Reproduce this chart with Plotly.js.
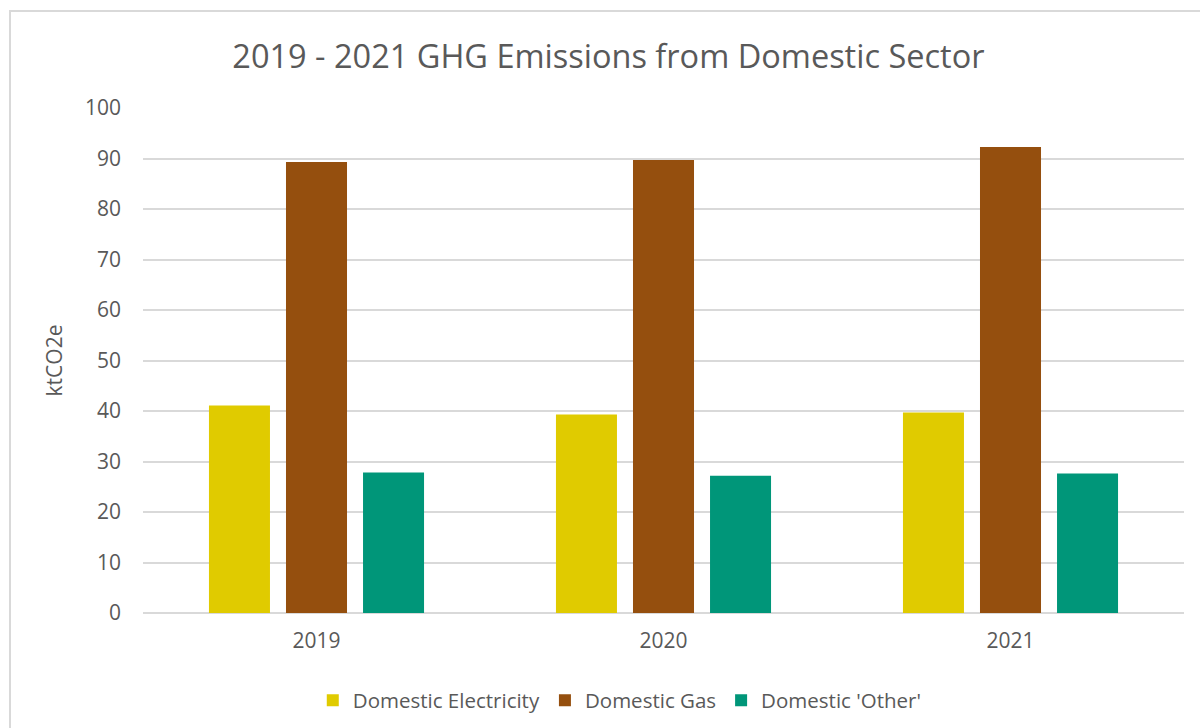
<!DOCTYPE html>
<html>
<head>
<meta charset="utf-8">
<script src="https://cdn.plot.ly/plotly-3.0.1.min.js"></script>
<style>
  html, body { margin: 0; padding: 0; background: #ffffff; }
  #chart { width: 1200px; height: 728px; position: absolute; left: 0; top: 0; }
  #frame { position: absolute; left: 9px; top: 10px; width: 1200px; height: 730px;
           border-top: 2px solid #d9d9d9; border-left: 2px solid #d9d9d9; pointer-events: none; }
</style>
</head>
<body>
<div id="chart"></div>
<div id="frame"></div>
<script>
const years = ['2019', '2020', '2021'];
const electricity = [41.1, 39.3, 39.7];
const gas = [89.3, 89.7, 92.3];
const other = [27.8, 27.2, 27.6];
const seriesNames = ['Domestic Electricity', 'Domestic Gas', "Domestic 'Other'"];
const seriesColors = ['#E0CB00', '#954F0E', '#009679'];
const yTicks = [0, 10, 20, 30, 40, 50, 60, 70, 80, 90, 100];

const font = 'Open Sans, Calibri, sans-serif';
const textColor = '#595959';

const seriesValues = [electricity, gas, other];
const data = seriesValues.map((vals, i) => ({
  type: 'bar',
  name: seriesNames[i],
  x: years,
  y: vals,
  marker: { color: seriesColors[i] },
  hoverinfo: 'x+y+name'
}));

const layout = {
  width: 1200,
  height: 728,
  paper_bgcolor: '#ffffff',
  plot_bgcolor: '#ffffff',
  font: { family: font, color: textColor },
  title: {
    text: '2019 - 2021 GHG Emissions from Domestic Sector',
    font: { family: font, size: 32.5, color: textColor },
    x: 0.507, xanchor: 'center',
    y: 0.922, yanchor: 'middle'
  },
  margin: { l: 143, r: 16, t: 108, b: 114.5 },
  barmode: 'group',
  bargap: 0.334,
  bargroupgap: 0.208,
  xaxis: {
    type: 'category',
    tickfont: { family: font, size: 21, color: textColor },
    showgrid: false,
    showline: false,
    ticks: '',
    ticklabelstandoff: 13,
    fixedrange: true
  },
  yaxis: {
    range: [0, 100],
    tickvals: yTicks,
    ticktext: yTicks.map(String),
    tickfont: { family: font, size: 21, color: textColor },
    showgrid: true,
    gridcolor: '#d9d9d9',
    gridwidth: 1.5,
    zeroline: true,
    zerolinecolor: '#d9d9d9',
    zerolinewidth: 1.5,
    showline: false,
    ticks: '',
    ticklabelstandoff: 21,
    title: {
      text: 'ktCO2e',
      font: { family: font, size: 21, color: textColor },
      standoff: 16
    },
    fixedrange: true
  },
  showlegend: true,
  legend: {
    orientation: 'h',
    x: 0.458, xanchor: 'center',
    yref: 'container',
    y: 0.038, yanchor: 'middle',
    font: { family: font, size: 20.5, color: textColor },
    itemwidth: 30,
    bgcolor: 'rgba(0,0,0,0)'
  }
};

Plotly.newPlot('chart', data, layout, { displayModeBar: false, staticPlot: false });
</script>
</body>
</html>
